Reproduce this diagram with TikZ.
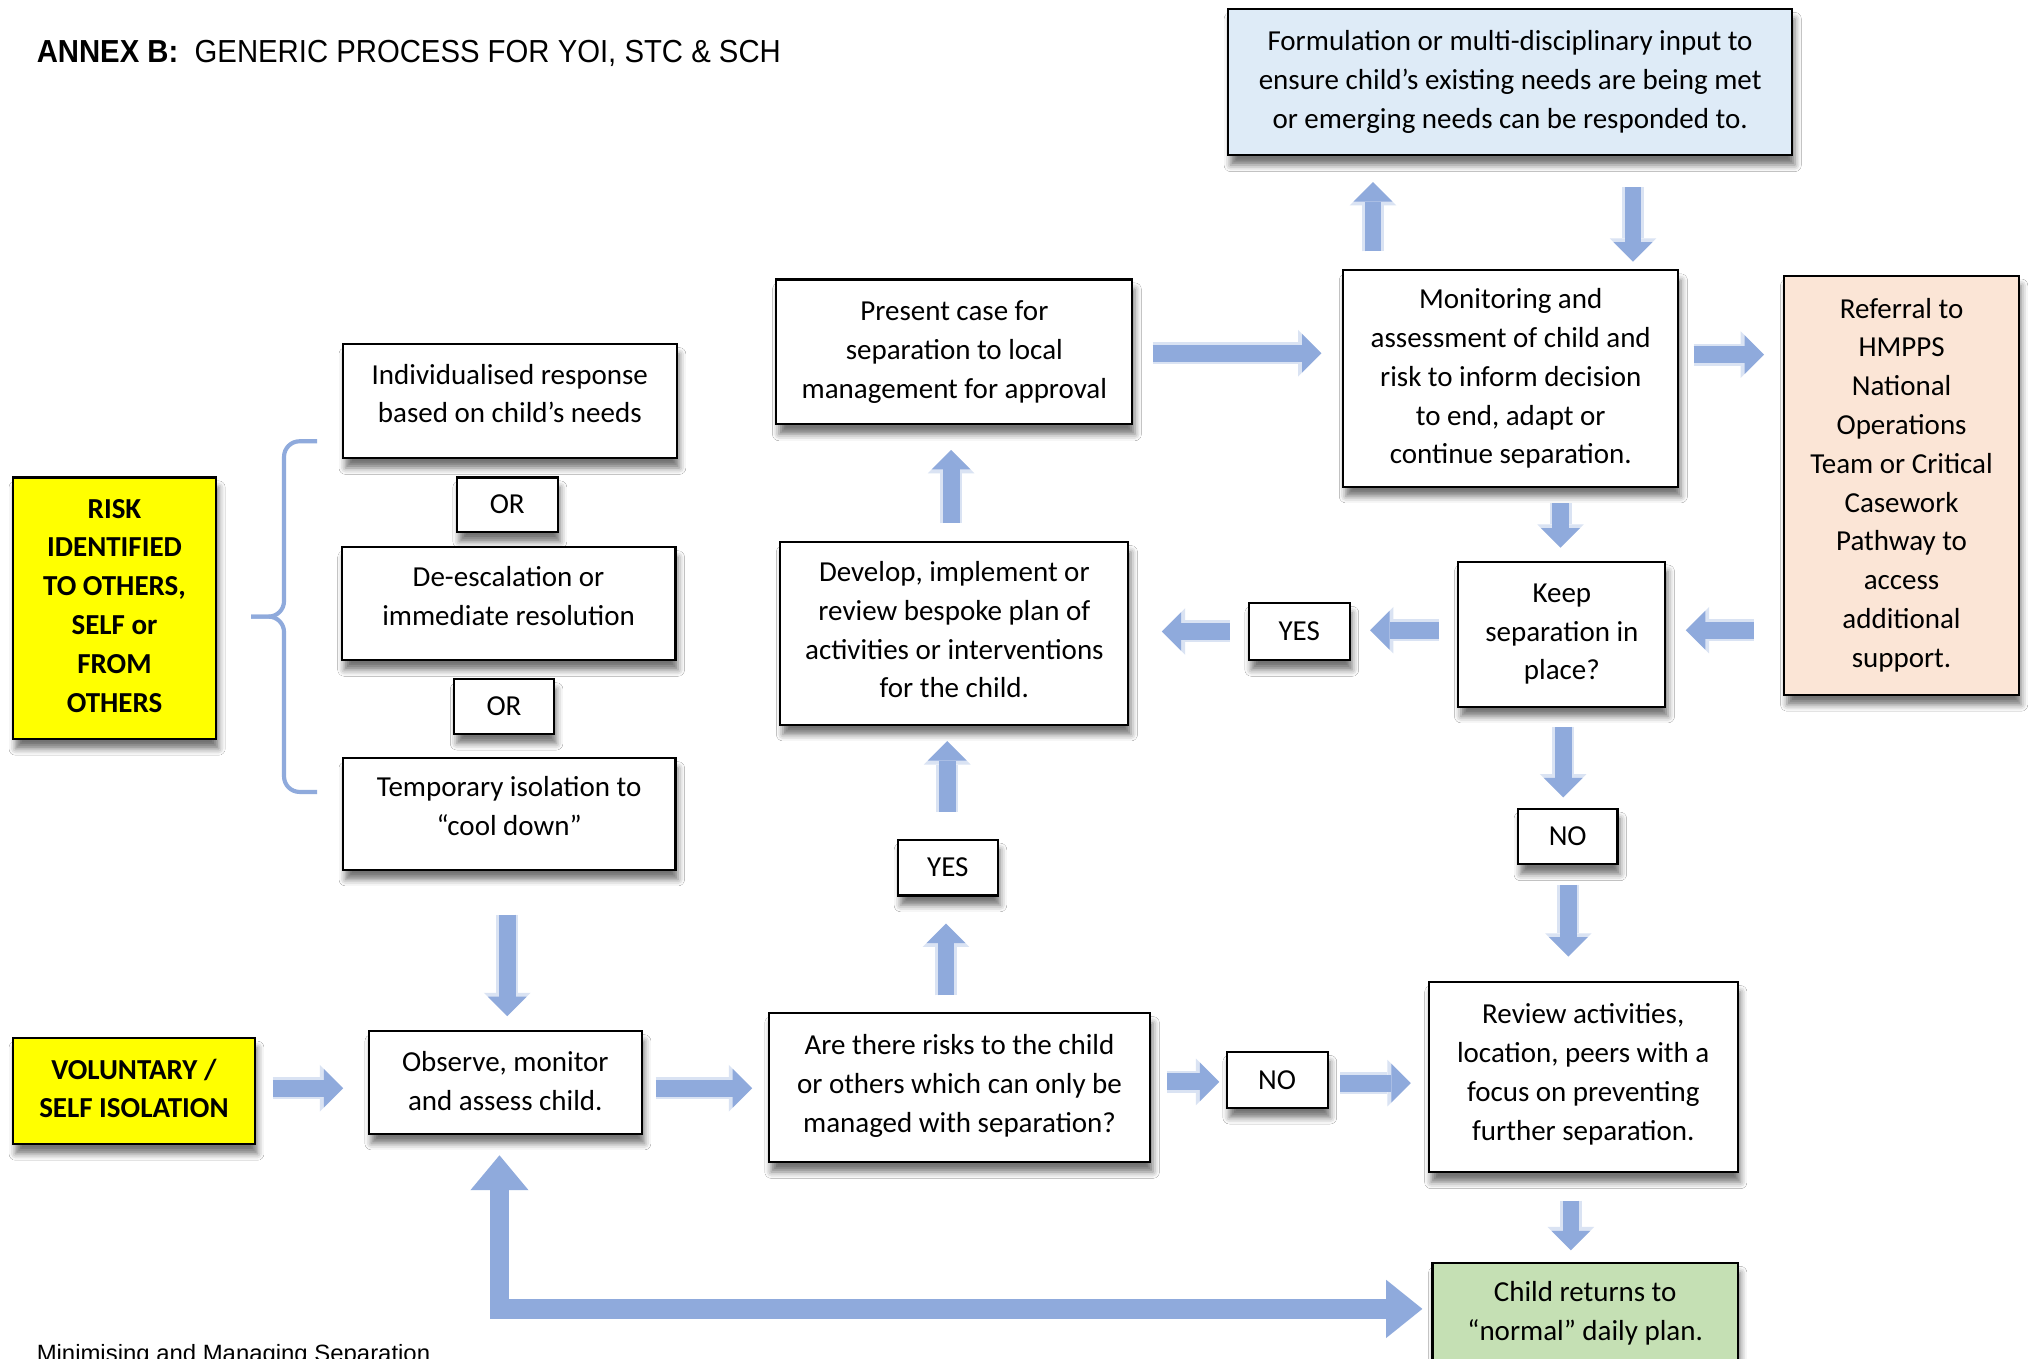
\documentclass[tikz,border=0pt]{standalone}
\usepackage{graphicx}
\usepackage{fontspec}
\setmainfont{Carlito}
\newfontfamily\arialfont{Liberation Sans}
\usetikzlibrary{arrows.meta,shadows.blur,calc}
\definecolor{arrowblue}{HTML}{8FAADC}
\definecolor{arrowedge}{HTML}{DAE3F3}
\definecolor{formblue}{HTML}{DEEBF7}
\definecolor{refpeach}{HTML}{FBE5D6}
\definecolor{childgreen}{HTML}{C5E0B4}
\definecolor{riskyellow}{HTML}{FFFF00}
\newcommand\lowpad[1]{\rule[-#1]{0pt}{0pt}}
\begin{document}
\begin{tikzpicture}[x=0.5pt,y=-0.5pt,
  box/.style={draw=black, line width=0.8pt, fill=white, align=center, inner sep=0pt,
    font=\fontsize{11.2}{15}\selectfont,
    blur shadow={shadow xshift=1pt, shadow yshift=-3.8pt, shadow blur radius=2.5pt, shadow opacity=55}},
  ybox/.style={box, fill=riskyellow, font=\bfseries\fontsize{11.2}{15}\selectfont},
  barrow/.style={draw=arrowblue, line width=6.5pt,
    -{Triangle[length=7.5pt,width=15pt,line width=0pt]},
    preaction={draw=arrowedge, line width=8.5pt, -{Triangle[length=9pt,width=18pt,line width=0pt]}}},
  bigarrow/.style={draw=arrowblue, line width=7.7pt,
    {Triangle[length=13.5pt,width=22.5pt,line width=0pt]}-{Triangle[length=14pt,width=22.5pt,line width=0pt]}},
  bracestyle/.style={draw=arrowblue, line width=1.6pt, rounded corners=6pt}
]
\useasboundingbox (0,0) rectangle (1568,1050);
\fill[white] (0,0) rectangle (1568,1050);

% title and footer
\node[anchor=base west, inner sep=0pt] (title) at (28,48)
  {\resizebox{287.5pt}{8.6pt}{\arialfont\textbf{ANNEX B:}\ \ GENERIC PROCESS FOR YOI, STC \& SCH}};
\node[anchor=base west, inner sep=0pt] (footer) at (28,1052)
  {\resizebox{152pt}{6.6pt}{\arialfont Minimising and Managing Separation}};

% boxes
\node[box, fill=formblue, minimum width=218pt, minimum height=56.5pt] (form) at (1167,63.5)
  {Formulation or multi-disciplinary input to\\ensure child’s existing needs are being met\\or emerging needs can be responded to.\lowpad{1pt}};
\node[box, fill=refpeach, minimum width=90.5pt, minimum height=162pt] (ref) at (1469.5,375)
  {Referral to\\HMPPS\\National\\Operations\\Team or Critical\\Casework\\Pathway to\\access\\additional\\support.\lowpad{2pt}};
\node[box, minimum width=129.5pt, minimum height=83.5pt] (mon) at (1167.5,292.5)
  {Monitoring and\\assessment of child and\\risk to inform decision\\to end, adapt or\\continue separation.};
\node[box, minimum width=137.5pt, minimum height=56pt] (pres) at (737.5,272)
  {Present case for\\separation to local\\management for approval\lowpad{1pt}};
\node[box, minimum width=129pt, minimum height=44pt] (indiv) at (394,310)
  {Individualised response\\based on child’s needs\lowpad{6pt}};
\node[box, minimum width=39pt, minimum height=21pt] (or1) at (392,390) {OR};
\node[box, minimum width=129pt, minimum height=43.5pt] (deesc) at (393,466.5)
  {De-escalation or\\immediate resolution\lowpad{6pt}};
\node[box, minimum width=38.5pt, minimum height=21pt] (or2) at (389.5,546) {OR};
\node[box, minimum width=128.5pt, minimum height=43pt] (temp) at (393.5,629)
  {Temporary isolation to\\“cool down”\lowpad{6pt}};
\node[ybox, minimum width=78.5pt, minimum height=101pt] (risk) at (88.5,470)
  {RISK\\IDENTIFIED\\TO OTHERS,\\SELF or\\FROM\\OTHERS\lowpad{2pt}};
\node[ybox, minimum width=93.5pt, minimum height=41pt] (vol) at (103.5,843)
  {VOLUNTARY /\\SELF ISOLATION\lowpad{2pt}};
\node[box, minimum width=105.5pt, minimum height=39.5pt] (obs) at (390.5,836.5)
  {Observe, monitor\\and assess child.\lowpad{1pt}};
\node[box, minimum width=147.5pt, minimum height=57.5pt] (are) at (741.5,840.5)
  {Are there risks to the child\\or others which can only be\\managed with separation?\lowpad{3pt}};
\node[box, minimum width=39pt, minimum height=21.5pt] (no1) at (987,834.5) {NO};
\node[box, minimum width=119.5pt, minimum height=73.5pt] (rev) at (1223.5,832.5)
  {Review activities,\\location, peers with a\\focus on preventing\\further separation.\lowpad{4pt}};
\node[box, fill=childgreen, minimum width=118pt, minimum height=39pt] (child) at (1225,1015)
  {Child returns to\\“normal” daily plan.};
\node[box, minimum width=134.5pt, minimum height=70.5pt] (dev) at (737.5,489.5)
  {Develop, implement or\\review bespoke plan of\\activities or interventions\\for the child.\lowpad{3pt}};
\node[box, minimum width=39pt, minimum height=22pt] (yes1) at (1004,488) {YES};
\node[box, minimum width=80pt, minimum height=56pt] (keep) at (1207,490)
  {Keep\\separation in\\place?\lowpad{1pt}};
\node[box, minimum width=38.5pt, minimum height=21.5pt] (no2) at (1211.5,646.5) {NO};
\node[box, minimum width=38.5pt, minimum height=21.5pt] (yes2) at (732.5,670.5) {YES};

% brace
\draw[bracestyle] (245,341) -- (219.5,341) -- (219.5,476.5) -- (194,476.5);
\draw[bracestyle] (194,476.5) -- (219.5,476.5) -- (219.5,612) -- (245,612);

% block arrows
\draw[barrow, shorten <=7pt, shorten >=10pt] (1061,0 |- mon.north) -- (1061,0 |- form.south);
\draw[barrow, shorten <=12pt, shorten >=3pt] (1262,0 |- form.south) -- (1262,0 |- mon.north);
\draw[barrow, shorten <=7.5pt, shorten >=8pt] (pres.east |- 0,273) -- (mon.west |- 0,273);
\draw[barrow, shorten <=5.5pt, shorten >=7.5pt] (mon.east |- 0,274) -- (ref.west |- 0,274);
\draw[barrow, shorten <=6pt, shorten >=5pt] (1206,0 |- mon.south) -- (1206,0 |- keep.north);
\draw[barrow, shorten <=11.5pt, shorten >=7.5pt] (ref.west |- 0,487) -- (keep.east |- 0,487);
\draw[barrow, shorten <=7pt, shorten >=7.5pt] (keep.west |- 0,487) -- (yes1.east |- 0,487);
\draw[barrow, shorten <=7pt, shorten >=12.5pt] (yes1.west |- 0,488) -- (dev.east |- 0,488);
\draw[barrow, shorten <=7pt, shorten >=9.5pt] (735,0 |- dev.north) -- (735,0 |- pres.south);
\draw[barrow, shorten <=10.5pt, shorten >=6pt] (732,0 |- yes2.north) -- (732,0 |- dev.south);
\draw[barrow, shorten <=6.5pt, shorten >=10.5pt] (731,0 |- are.north) -- (731,0 |- yes2.south);
\draw[barrow, shorten <=7.5pt, shorten >=4pt] (1208,0 |- keep.south) -- (1208,0 |- no2.north);
\draw[barrow, shorten <=7.5pt, shorten >=9.5pt] (1212,0 |- no2.south) -- (1212,0 |- rev.north);
\draw[barrow, shorten <=10.5pt, shorten >=4.5pt] (1214,0 |- rev.south) -- (1214,0 |- child.north);
\draw[barrow, shorten <=6pt, shorten >=2.5pt] (are.east |- 0,836) -- (no1.west |- 0,836);
\draw[barrow, shorten <=4.5pt, shorten >=6.5pt] (no1.east |- 0,837) -- (rev.west |- 0,837);
\draw[barrow, shorten <=5pt, shorten >=6pt] (obs.east |- 0,841) -- (are.west |- 0,841);
\draw[barrow, shorten <=6.5pt, shorten >=9.5pt] (vol.east |- 0,841) -- (obs.west |- 0,841);
\draw[barrow, shorten <=17pt, shorten >=5.5pt] (392,0 |- temp.south) -- (392,0 |- obs.north);
\draw[bigarrow, shorten <=8pt, shorten >=3.5pt] (386,0 |- obs.south) |- (child.west |- 0,1011.5);
\end{tikzpicture}
\end{document}
